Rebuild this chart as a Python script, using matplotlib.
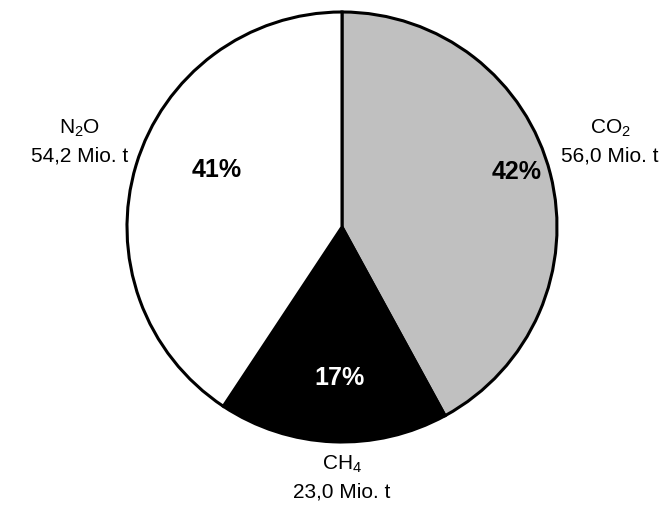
import matplotlib
matplotlib.use("Agg")
import matplotlib.pyplot as plt

plt.rcParams['font.family'] = ['Liberation Sans', 'DejaVu Sans']
plt.rcParams['mathtext.fontset'] = 'custom'
plt.rcParams['mathtext.rm'] = 'Liberation Sans'
plt.rcParams['mathtext.it'] = 'Liberation Sans:italic'
plt.rcParams['mathtext.bf'] = 'Liberation Sans:bold'

gases = [r'$\mathrm{CO}_2$', r'$\mathrm{CH}_4$', r'$\mathrm{N}_2\mathrm{O}$']
emissions = [56.0, 23.0, 54.2]          # Mio. t
shares = ['42%', '17%', '41%']
colors = ['#c0c0c0', '#000000', '#ffffff']
pct_colors = ['black', 'white', 'black']

W, H = 664, 507
fig = plt.figure(figsize=(W / 100, H / 100), dpi=100)
ax = fig.add_axes([0, 0, 1, 1])

cx, cy, r = 342, H - 227, 215

ax.pie(emissions, colors=colors, startangle=90, counterclock=False,
       center=(cx, cy), radius=r, frame=True,
       wedgeprops=dict(edgecolor='black', linewidth=2.2))
ax.set_xlim(0, W)
ax.set_ylim(0, H)
ax.set_aspect('equal')
ax.axis('off')

# percentage labels inside the wedges
pct_pos = [(517, 172), (340, 378), (217, 170)]
for (px, py), s, c in zip(pct_pos, shares, pct_colors):
    ax.text(px, H - py, s, ha='center', va='center', fontsize=18,
            fontweight='bold', color=c)

# gas names and amounts outside the pie
lab_pos = [(610, 142), (342, 478), (80, 142)]
for (px, py), g, v in zip(lab_pos, gases, emissions):
    amount = f"{v:.1f}".replace('.', ',') + " Mio. t"
    ax.text(px, H - py + 14, g, ha='center', va='center', fontsize=15)
    ax.text(px, H - py - 14, amount, ha='center', va='center', fontsize=15)

fig.savefig('out.png', dpi=100)
